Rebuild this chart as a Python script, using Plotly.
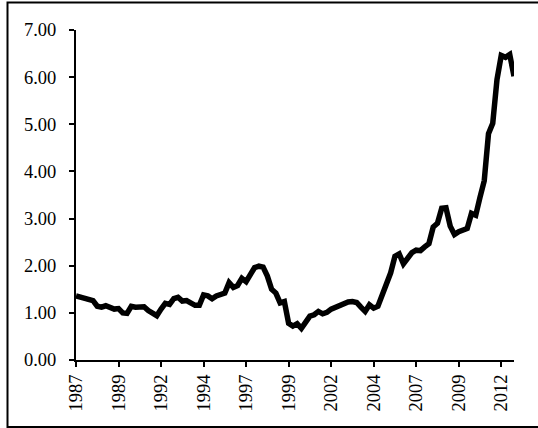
import plotly.graph_objects as go

# Quarterly series, 1987Q1 - 2012Q4
quarters = [f"{y}Q{q}" for y in range(1987, 2013) for q in range(1, 5)]
values = [
    1.36, 1.33, 1.30, 1.26, 1.26, 1.14, 1.12, 1.15, 1.12, 1.08,
    1.09, 1.00, 0.99, 1.14, 1.12, 1.14, 1.13, 1.05, 1.00, 0.94,
    1.08, 1.20, 1.18, 1.30, 1.33, 1.25, 1.26, 1.20, 1.16, 1.16,
    1.38, 1.36, 1.30, 1.36, 1.38, 1.42, 1.64, 1.54, 1.58, 1.73,
    1.66, 1.82, 1.96, 1.99, 1.97, 1.78, 1.50, 1.42, 1.21, 1.24,
    0.78, 0.72, 0.77, 0.67, 0.78, 0.93, 0.96, 1.03, 0.98, 1.01,
    1.08, 1.12, 1.16, 1.19, 1.23, 1.24, 1.22, 1.12, 1.03, 1.17,
    1.10, 1.14, 1.40, 1.65, 1.85, 2.20, 2.25, 2.04, 2.17, 2.28,
    2.33, 2.32, 2.40, 2.47, 2.82, 2.90, 3.22, 3.23, 2.84, 2.66,
    2.72, 2.76, 2.79, 3.11, 3.07, 3.45, 3.80, 4.80, 5.02, 5.95,
    6.46, 6.42, 6.48, 6.02,
]
tick_every = 10
tick_idx = list(range(0, len(quarters), tick_every))
tick_labels = [quarters[i][:4] for i in tick_idx]
y_ticks = [0, 1, 2, 3, 4, 5, 6, 7]

x = list(range(len(values)))

fig = go.Figure()
fig.add_trace(go.Scatter(
    x=x, y=values, mode="lines",
    line=dict(color="black", width=5.5),
    hoverinfo="skip", showlegend=False,
))

font = dict(family="Times New Roman, Liberation Serif, serif", size=18.5, color="black")

fig.update_layout(
    width=538, height=428,
    margin=dict(l=76, r=24, t=29.5, b=68),
    paper_bgcolor="white", plot_bgcolor="white",
    font=font,
    showlegend=False,
)
fig.update_xaxes(
    range=[0, len(values) - 1],
    tickmode="array", tickvals=tick_idx, ticktext=tick_labels,
    tickangle=-90,
    showgrid=False, zeroline=False,
    showline=True, linecolor="black", linewidth=2,
    ticks="outside", ticklen=5, tickwidth=1.5, tickcolor="black",
    tickfont=font,
)
fig.update_yaxes(
    range=[0, 7],
    tickmode="array", tickvals=y_ticks,
    tickformat=".2f",
    showgrid=False, zeroline=False,
    showline=True, linecolor="black", linewidth=2,
    ticks="outside", ticklen=5, tickwidth=1.5, tickcolor="black",
    ticklabelstandoff=9,
    tickfont=font,
)
# outer chart frame (right edge lies outside the visible area)
fig.add_shape(
    type="rect", xref="paper", yref="paper",
    x0=(7.5 - 76) / 438, x1=1.2,
    y0=(360 - 427) / 330.5, y1=(360 - 2) / 330.5,
    line=dict(color="black", width=2), fillcolor="rgba(0,0,0,0)",
    layer="below",
)

fig.write_html(
    "out.html",
    config={"displayModeBar": False},
    post_script="document.body.style.margin='0';document.body.style.overflow='hidden';",
)
